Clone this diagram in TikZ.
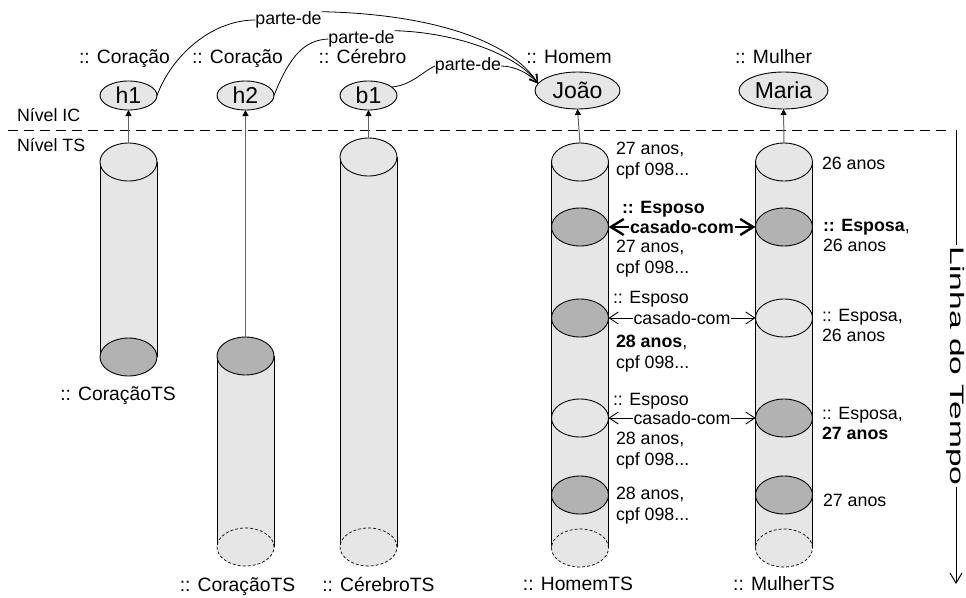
\documentclass[tikz,border=0pt]{standalone}
\usepackage{fontspec}
\setmainfont{Liberation Sans}
\usetikzlibrary{shapes.geometric,arrows.meta,backgrounds}

\definecolor{bodygray}{RGB}{230,230,230}
\definecolor{slicegray}{RGB}{178,178,178}
\definecolor{stemgray}{RGB}{100,100,100}

\newcommand\bodytxt{\fontsize{17.8}{20.5}\selectfont}
\newcommand\typetxt{\fontsize{19.3}{23}\selectfont}
\newcommand\insttxt{\fontsize{23}{26}\selectfont}
\newcommand\timetxt{\fontsize{19.5}{22}\selectfont}

\begin{document}
\begin{tikzpicture}[x=1pt, y=-1pt,
  every node/.style={inner sep=0pt, outer sep=0pt, font=\bodytxt},
  inst/.style={ellipse, draw, fill=bodygray, line width=0.9pt,
    minimum width=57pt, minimum height=29pt, font=\insttxt},
  slice/.style={ellipse, draw, fill=bodygray, line width=0.9pt,
    minimum width=57pt, minimum height=38pt},
  darkslice/.style={slice, fill=slicegray},
  endslice/.style={slice, line width=0.7pt, dash pattern=on 3pt off 2pt},
  typelabel/.style={anchor=base, font=\typetxt},
  info/.style={anchor=west, align=left},
  stem/.style={draw=stemgray, line width=1pt,
    -{Triangle[length=6pt,width=6pt,color=black]}},
  partline/.style={line width=0.8pt},
  partarrow/.style={partline, -{Straight Barb[length=8pt,width=9pt]}},
  marry/.style={line width=0.9pt,
    {Straight Barb[length=9pt,width=12pt]}-{Straight Barb[length=9pt,width=12pt]}},
  marrybold/.style={line width=2.4pt,
    {Straight Barb[length=13pt,width=16pt]}-{Straight Barb[length=13pt,width=16pt]}},
  levelline/.style={line width=0.9pt, dash pattern=on 10pt off 6pt},
  timeline/.style={line width=1pt, -{Straight Barb[length=10pt,width=12pt]}}
]
\useasboundingbox (0,0) rectangle (966,597);

% ---- instance level ----
\node[inst] (h1) at (128.5,95.5) {h1};
\node[inst] (h2) at (245.5,95.5) {h2};
\node[inst] (b1) at (368.5,95.5) {b1};
\node[inst, minimum width=85pt, minimum height=37pt] (joao) at (577.5,90.5) {João};
\node[inst, minimum width=89pt, minimum height=37pt] (maria) at (783.5,90.5) {Maria};

\node[typelabel] (th1) at (124.5,63.5) {:: Coração};
\node[typelabel] (th2) at (237.5,63.5) {:: Coração};
\node[typelabel] (tb1) at (362.5,63.5) {:: Cérebro};
\node[typelabel] (tjo) at (569,63.5) {:: Homem};
\node[typelabel] (tma) at (773.5,63.5) {:: Mulher};

% ---- level separator ----
\node[anchor=base west] (ic) at (17,121.5) {Nível IC};
\node[anchor=base west] (ts) at (17,151.5) {Nível TS};
\coordinate (d0) at (8,130);
\coordinate (d1) at (949,130);
\draw[levelline] (d0) -- (d1);

% ---- time slices ----
\node[slice]     (ht)  at (128.5,162) {};
\node[darkslice] (hb)  at (128.5,357) {};

\node[darkslice] (h2t) at (245.5,356) {};
\node[endslice]  (h2b) at (245.5,547) {};

\node[slice]     (bt)  at (368.5,157) {};
\node[endslice]  (bb)  at (368.5,547) {};

\node[slice]     (j0) at (580,162) {};
\node[darkslice] (j1) at (580,227) {};
\node[darkslice] (j2) at (580,318) {};
\node[slice]     (j3) at (580,418) {};
\node[darkslice] (j4) at (580,495) {};
\node[endslice]  (j5) at (580,548) {};

\node[slice]     (m0) at (784,162) {};
\node[darkslice] (m1) at (784,227) {};
\node[slice]     (m2) at (784,318) {};
\node[darkslice] (m3) at (784,418) {};
\node[darkslice] (m4) at (784,495) {};
\node[endslice]  (m5) at (784,548) {};

% cylinder bodies behind the slices
\begin{scope}[on background layer]
  \foreach \a/\b in {ht/hb, h2t/h2b, bt/bb, j0/j5, m0/m5} {
    \fill[bodygray] (\a.west) rectangle (\b.east);
    \draw[line width=0.9pt] (\a.west) -- (\b.west) (\a.east) -- (\b.east);
  }
\end{scope}

\node[typelabel] (lh1) at (118,400) {:: CoraçãoTS};
\node[typelabel] (lh2) at (237.5,591) {:: CoraçãoTS};
\node[typelabel] (lb1) at (378.5,591) {:: CérebroTS};
\node[typelabel] (ljo) at (578,590.5) {:: HomemTS};
\node[typelabel] (lma) at (784,590.5) {:: MulherTS};

% ---- slices to instances ----
\draw[stem] (ht.north) -- (h1.south);
\draw[stem] (h2t.north) -- (h2.south);
\draw[stem] (bt.north) -- (b1.south);
\draw[stem] (j0.north) -- (joao.south);
\draw[stem] (m0.north) -- (maria.south);

% ---- parte-de relations ----
\node (p1) at (288.5,20) {parte-de};
\node (p2) at (361.5,39) {parte-de};
\node (p3) at (468,66) {parte-de};
\draw[partline] (h1.east) .. controls (172,55) and (212,20) .. (p1.west);
\draw[partarrow] (p1.north east) .. controls (430,14) and (510,40) .. (joao.170);
\draw[partline] (h2.east) .. controls (290,55) and (305,40) .. (p2.west);
\draw[partarrow] (p2.north east) .. controls (450,32) and (515,52) .. (joao.170);
\draw[partline] (b1.20) .. controls (412,85) and (422,72) .. (p3.west);
\draw[partarrow] (p3.east) .. controls (515,66) and (530,74) .. (joao.170);

% ---- casado-com relations ----
\draw[marrybold] (j1.east) -- node[fill=white, inner sep=1pt, font=\bodytxt\bfseries] (c1) {casado-com} (m1.west);
\draw[marry] (j2.east) -- node[fill=white, inner sep=1pt] (c2) {casado-com} (m2.west);
\draw[marry] (j3.east) -- node[fill=white, inner sep=1pt] (c3) {casado-com} (m3.west);

\node[anchor=base west] (e1) at (622,213) {\textbf{:: Esposo}};
\node[anchor=base west] (e2) at (613,303) {:: Esposo};
\node[anchor=base west] (e3) at (613,405) {:: Esposo};

% ---- slice attributes ----
\node[info] (ji0) at (616,160.5) {27 anos,\\cpf 098...};
\node[info] (ji1) at (616,258.5) {27 anos,\\cpf 098...};
\node[info] (ji2) at (616,353.5) {\textbf{28 anos},\\cpf 098...};
\node[info] (ji3) at (616,450.5) {28 anos,\\cpf 098...};
\node[info] (ji4) at (616,505.5) {28 anos,\\cpf 098...};

\node[anchor=base west] (mi0) at (822,169) {26 anos};
\node[info] (mi1) at (823,235.5) {\textbf{:: Esposa},\\26 anos};
\node[info] (mi2) at (822,325.5) {:: Esposa,\\26 anos};
\node[info] (mi3) at (822,423.5) {:: Esposa,\\\textbf{27 anos}};
\node[anchor=base west] (mi4) at (823,506) {27 anos};

% ---- time axis ----
\coordinate (t0) at (956,130);
\coordinate (t1) at (956,584);
\draw[timeline] (t0) -- node[pos=0.52, fill=white, rotate=-90, inner sep=2pt, font=\timetxt] (tl) {\scalebox{1.72}[1]{Linha do Tempo}} (t1);
\end{tikzpicture}
\end{document}
